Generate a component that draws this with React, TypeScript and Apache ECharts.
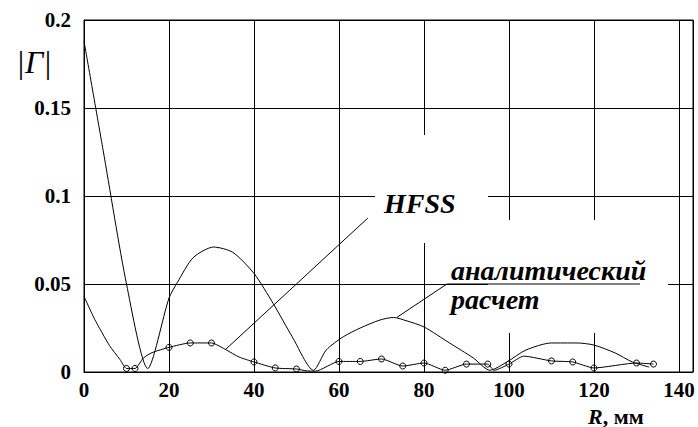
import React, { useEffect, useRef } from "react";
import * as echarts from "echarts";

// ---- data ----
const analyticR = [0, 4.5, 10, 15, 20, 22, 25.7, 30.5, 35, 40, 44.5, 49, 54, 57, 61, 65, 69.6, 72.8, 76, 80, 86, 91.6, 95.5, 99.5, 104, 110, 116, 120, 125, 129, 133];
const analyticG = [0.188, 0.126, 0.05, 0.002, 0.042, 0.051, 0.065, 0.071, 0.068, 0.056, 0.039, 0.02, 0.001, 0.0125, 0.02, 0.025, 0.0295, 0.031, 0.029, 0.0256, 0.0165, 0.008, 0.001, 0.0057, 0.0125, 0.0165, 0.0165, 0.0153, 0.0108, 0.0057, 0.0028];

const hfssR = [0, 2.5, 6, 8.5, 10, 12, 14, 16, 20, 25, 30, 33.5, 36.5, 40, 45, 50, 52.5, 54.5, 60, 65, 70, 75, 80, 85, 90, 95, 96.5, 100, 103.5, 110, 115, 120, 130, 134];
const hfssG = [0.043, 0.03, 0.015, 0.007, 0.002, 0.002, 0.008, 0.011, 0.014, 0.0165, 0.0165, 0.0125, 0.0085, 0.0057, 0.0023, 0.0017, 0.0006, 0.0005, 0.006, 0.006, 0.0074, 0.0034, 0.0051, 0.001, 0.0045, 0.0045, 0.001, 0.0045, 0.009, 0.0063, 0.0057, 0.0023, 0.0051, 0.0045];
const hfssMarked = [false, false, false, false, true, true, false, false, true, true, true, false, false, true, true, true, false, false, true, true, true, true, true, true, true, true, false, true, false, true, true, true, true, true];

const hfssLeaderR = [66.8, 33.4];
const hfssLeaderG = [0.0875, 0.013];
const analyticLeaderR = [73.6, 85.4, 130.8];
const analyticLeaderG = [0.031, 0.05, 0.05];

const yTitle = "|Г|";
const xTitleVar = "R";
const xTitleUnit = ", мм";
const hfssLabel = "HFSS";
const analyticLabel1 = "аналитический";
const analyticLabel2 = "расчет";

const FONT = "Liberation Serif";

export default function App() {
  const ref = useRef<HTMLDivElement>(null);
  useEffect(() => {
    const chart = echarts.init(ref.current!, null, { renderer: "svg" });
    const analyticData = analyticR.map((r, i) => [r, analyticG[i]]);
    const hfssData = hfssR.map((r, i) => ({
      value: [r, hfssG[i]],
      symbol: hfssMarked[i] ? "circle" : "none",
    }));
    const black = "#000";
    const bi = { fontFamily: FONT, fontStyle: "italic", fontWeight: "bold", fontSize: 28, fill: black, textVerticalAlign: "middle" };
    chart.setOption({
      animation: false,
      backgroundColor: "#fff",
      textStyle: { fontFamily: FONT },
      grid: {
        left: 84,
        right: 5,
        top: 20,
        bottom: 55,
        show: true,
        borderColor: black,
        borderWidth: 1,
      },
      xAxis: {
        type: "value",
        min: 0,
        max: 143.3,
        interval: 20,
        axisLine: { show: true, lineStyle: { color: black, width: 1 } },
        axisTick: { show: false },
        splitLine: { show: true, lineStyle: { color: black, width: 1 } },
        axisLabel: {
          margin: 7,
          color: black,
          fontFamily: FONT,
          fontWeight: "bold",
          fontSize: 21,
          formatter: (v: number) => (Math.abs(v % 20) < 1e-6 ? String(v) : ""),
        },
      },
      yAxis: {
        type: "value",
        min: 0,
        max: 0.2,
        interval: 0.05,
        axisLine: { show: true, lineStyle: { color: black, width: 1 } },
        axisTick: { show: false },
        splitLine: { show: true, lineStyle: { color: black, width: 1 } },
        axisLabel: {
          margin: 13,
          color: black,
          fontFamily: FONT,
          fontWeight: "bold",
          fontSize: 21,
        },
      },
      series: [
        {
          type: "line",
          data: analyticData,
          showSymbol: false,
          smooth: 0.25,
          lineStyle: { color: black, width: 1 },
          z: 3,
        },
        {
          type: "line",
          data: hfssData,
          showAllSymbol: true,
          symbolSize: 6,
          smooth: 0.2,
          itemStyle: { color: "rgba(0,0,0,0)", borderColor: black, borderWidth: 1 },
          lineStyle: { color: black, width: 1 },
          z: 3,
        },
        {
          type: "line",
          data: hfssLeaderR.map((r, i) => [r, hfssLeaderG[i]]),
          showSymbol: false,
          lineStyle: { color: black, width: 1 },
          z: 3,
        },
        {
          type: "line",
          data: analyticLeaderR.map((r, i) => [r, analyticLeaderG[i]]),
          showSymbol: false,
          lineStyle: { color: black, width: 1 },
          z: 3,
        },
      ],
      graphic: [
        { type: "rect", z: 1, shape: { x: 375, y: 135, width: 113, height: 108 }, style: { fill: "#fff" } },
        { type: "rect", z: 1, shape: { x: 488, y: 220, width: 180, height: 113 }, style: { fill: "#fff" } },
        { type: "text", z: 10, x: 384, y: 203, style: { ...bi, text: hfssLabel } },
        { type: "text", z: 10, x: 451, y: 270, style: { ...bi, text: analyticLabel1 } },
        { type: "text", z: 10, x: 451, y: 299, style: { ...bi, text: analyticLabel2 } },
        {
          type: "text", z: 10, x: 34, y: 62,
          style: { text: yTitle, fontFamily: FONT, fontStyle: "italic", fontSize: 32, fill: black, textAlign: "center", textVerticalAlign: "middle" },
        },
        {
          type: "text", z: 10, x: 588, y: 416,
          style: {
            text: `{v|${xTitleVar}}{u|${xTitleUnit}}`,
            textVerticalAlign: "middle",
            rich: {
              v: { fontFamily: FONT, fontStyle: "italic", fontWeight: "bold", fontSize: 22, fill: black },
              u: { fontFamily: FONT, fontWeight: "bold", fontSize: 22, fill: black },
            },
          },
        },
      ],
    });
    return () => chart.dispose();
  }, []);
  return <div ref={ref} style={{ width: 698, height: 427, position: "absolute", left: 0, top: 0 }} />;
}
